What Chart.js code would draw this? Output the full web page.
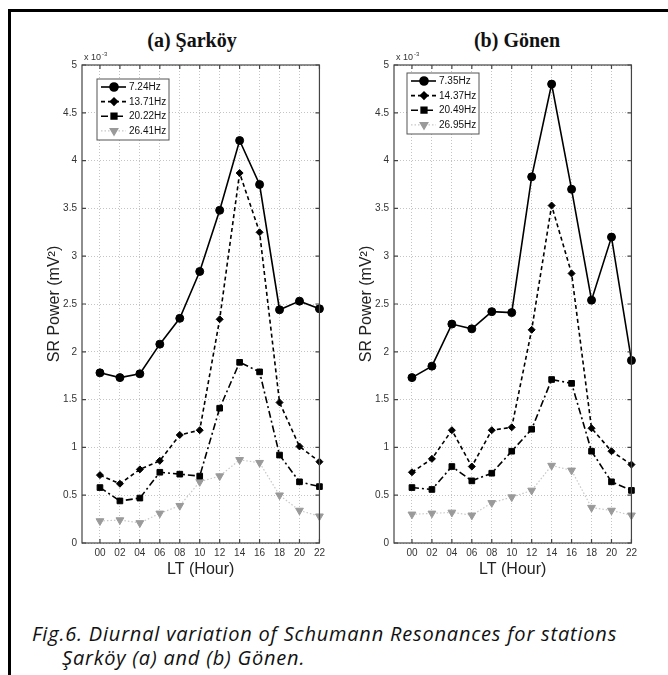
<!DOCTYPE html>
<html>
<head>
<meta charset="utf-8">
<script src="https://cdn.jsdelivr.net/npm/chart.js@4"></script>
<style>
  body { margin: 0; background: #fff; width: 668px; height: 675px; overflow: hidden; position: relative; }
  .frame { position: absolute; left: 8px; top: 9px; width: 660px; height: 666px; border-top: 3px solid #000; border-left: 3px solid #000; box-sizing: border-box; }
  .box { position: absolute; top: 20px; width: 309px; height: 559px; }
  .title { position: absolute; top: 29px; font: bold 20px "Liberation Serif", serif; color: #111; white-space: nowrap; transform: translateX(-50%); }
  .caption { position: absolute; left: 32px; top: 622px; font: italic 20px "Open Sans", sans-serif; letter-spacing: 0.8px; color: #111; line-height: 24px; white-space: nowrap; }
</style>
</head>
<body>
<div class="frame"></div>
<div class="title" style="left:192px">(a) Şarköy</div>
<div class="title" style="left:517px">(b) Gönen</div>
<div class="box" style="left:20px"><canvas id="chartA"></canvas></div>
<div class="box" style="left:332px"><canvas id="chartB"></canvas></div>
<div class="caption">Fig.6. Diurnal variation of Schumann Resonances for stations<br><span style="padding-left:30px">Şarköy (a) and (b) Gönen.</span></div>
<script>
const hours = [0, 2, 4, 6, 8, 10, 12, 14, 16, 18, 20, 22];

// Şarköy (x 10^-3 mV^2)
const sarkoyLabels = ["7.24Hz", "13.71Hz", "20.22Hz", "26.41Hz"];
const sarkoy1 = [1.78, 1.73, 1.77, 2.08, 2.35, 2.84, 3.48, 4.21, 3.75, 2.44, 2.53, 2.45];
const sarkoy2 = [0.71, 0.62, 0.77, 0.86, 1.13, 1.18, 2.34, 3.87, 3.25, 1.47, 1.01, 0.85];
const sarkoy3 = [0.58, 0.44, 0.47, 0.74, 0.72, 0.70, 1.41, 1.89, 1.79, 0.92, 0.64, 0.59];
const sarkoy4 = [0.23, 0.24, 0.21, 0.31, 0.39, 0.64, 0.70, 0.87, 0.84, 0.50, 0.34, 0.28];

// Gönen
const gonenLabels = ["7.35Hz", "14.37Hz", "20.49Hz", "26.95Hz"];
const gonen1 = [1.73, 1.85, 2.29, 2.24, 2.42, 2.41, 3.83, 4.80, 3.70, 2.54, 3.20, 1.91];
const gonen2 = [0.74, 0.88, 1.18, 0.80, 1.18, 1.21, 2.23, 3.53, 2.82, 1.20, 0.96, 0.82];
const gonen3 = [0.58, 0.56, 0.80, 0.65, 0.73, 0.96, 1.19, 1.71, 1.67, 0.96, 0.64, 0.55];
const gonen4 = [0.30, 0.31, 0.32, 0.29, 0.42, 0.48, 0.55, 0.81, 0.76, 0.37, 0.34, 0.29];

const styles = [
  { color: "#000", dash: [], width: 1.6, point: "circle", r: 4, pcolor: "#000" },
  { color: "#000", dash: [4, 3], width: 1.6, point: "rectRot", r: 3.5, pcolor: "#000" },
  { color: "#000", dash: [7, 3, 2, 3], width: 1.6, point: "rect", r: 4, pcolor: "#000" },
  { color: "#c8c8c8", dash: [1.5, 2], width: 1.2, point: "triangle", r: 4.5, pcolor: "#9a9a9a" }
];

function makeSets(labels, series) {
  return series.map((vals, i) => {
    const s = styles[i];
    return {
      label: labels[i],
      data: vals.map((v, j) => ({ x: hours[j], y: v })),
      borderColor: s.color,
      borderWidth: s.width,
      borderDash: s.dash,
      pointStyle: s.point,
      pointRadius: s.r,
      pointRotation: i === 3 ? 180 : 0,
      pointBackgroundColor: s.pcolor,
      pointBorderColor: s.pcolor,
      pointBorderWidth: 1,
      tension: 0,
      clip: 8
    };
  });
}

// frame, inward ticks, exponent label and legend box
const framePlugin = {
  id: "frame",
  afterDraw(chart, args, opts) {
    const ctx = chart.ctx;
    const a = chart.chartArea;
    const xs = chart.scales.x, ys = chart.scales.y;
    ctx.save();
    ctx.strokeStyle = "#444";
    ctx.lineWidth = 1.2;
    ctx.setLineDash([]);
    ctx.strokeRect(a.left, a.top, a.right - a.left, a.bottom - a.top);
    ctx.beginPath();
    xs.ticks.forEach(t => {
      const px = xs.getPixelForValue(t.value);
      ctx.moveTo(px, a.bottom); ctx.lineTo(px, a.bottom - 4);
      ctx.moveTo(px, a.top); ctx.lineTo(px, a.top + 4);
    });
    ys.ticks.forEach(t => {
      const py = ys.getPixelForValue(t.value);
      ctx.moveTo(a.left, py); ctx.lineTo(a.left + 4, py);
      ctx.moveTo(a.right, py); ctx.lineTo(a.right - 4, py);
    });
    ctx.stroke();

    // x 10^-3
    ctx.fillStyle = "#333";
    ctx.font = "9px 'Liberation Sans'";
    ctx.textBaseline = "alphabetic";
    ctx.fillText("x 10", a.left + 2, a.top - 5);
    ctx.font = "6px 'Liberation Sans'";
    ctx.fillText("-3", a.left + 20, a.top - 9);

    // legend
    const bx = a.left + opts.dx, by = a.top + opts.dy;
    const bw = 72, bh = 61;
    ctx.fillStyle = "#fff";
    ctx.fillRect(bx, by, bw, bh);
    ctx.strokeStyle = "#555";
    ctx.lineWidth = 1;
    ctx.strokeRect(bx, by, bw, bh);
    chart.data.datasets.forEach((ds, i) => {
      const yy = by + 8 + i * 14.6;
      ctx.strokeStyle = ds.borderColor;
      ctx.lineWidth = ds.borderWidth;
      ctx.setLineDash(ds.borderDash);
      ctx.beginPath();
      ctx.moveTo(bx + 4, yy); ctx.lineTo(bx + 29, yy);
      ctx.stroke();
      ctx.setLineDash([]);
      ctx.fillStyle = ds.pointBackgroundColor;
      ctx.strokeStyle = ds.pointBorderColor;
      Chart.helpers.drawPoint(ctx, {
        pointStyle: ds.pointStyle, radius: ds.pointRadius, rotation: ds.pointRotation, borderWidth: 1
      }, bx + 17, yy);
      ctx.fillStyle = "#111";
      ctx.font = "10px 'Liberation Sans'";
      ctx.textBaseline = "middle";
      ctx.fillText(ds.label, bx + 32, yy + 0.5);
    });
    ctx.restore();
  }
};

function buildChart(id, labels, series, legendPos) {
  const ctx = document.getElementById(id).getContext("2d");
  return new Chart(ctx, {
    type: "line",
    data: { datasets: makeSets(labels, series) },
    options: {
      responsive: true,
      maintainAspectRatio: false,
      animation: false,
      layout: { padding: { top: 45, left: 21, right: 8, bottom: 0 } },
      plugins: { legend: { display: false }, tooltip: { enabled: false }, frame: legendPos },
      scales: {
        x: {
          type: "linear",
          min: -1.8,
          max: 22,
          afterFit: s => { s.height = 36; },
          afterBuildTicks: s => { s.ticks = hours.map(h => ({ value: h })); },
          ticks: {
            includeBounds: false,
            padding: 4,
            color: "#333",
            font: { family: "Liberation Sans", size: 10 },
            callback: v => String(v).padStart(2, "0")
          },
          grid: { color: "#c4c4c4", lineWidth: 1, drawTicks: false },
          border: { display: false, dash: [1, 2] },
          title: { display: true, text: "LT (Hour)", color: "#222", font: { family: "Liberation Sans", size: 16 }, padding: { top: 0, bottom: 0 } }
        },
        y: {
          min: 0,
          max: 5,
          afterFit: s => { s.width = 41; },
          ticks: {
            stepSize: 0.5,
            padding: 5,
            color: "#333",
            font: { family: "Liberation Sans", size: 10 },
            callback: v => String(v)
          },
          grid: { color: "#c4c4c4", lineWidth: 1, drawTicks: false },
          border: { display: false, dash: [1, 2] },
          title: { display: true, text: "SR Power (mV²)", color: "#222", font: { family: "Liberation Sans", size: 16 }, padding: 4 }
        }
      }
    },
    plugins: [framePlugin]
  });
}

buildChart("chartA", sarkoyLabels, [sarkoy1, sarkoy2, sarkoy3, sarkoy4], { dx: 15, dy: 14 });
buildChart("chartB", gonenLabels, [gonen1, gonen2, gonen3, gonen4], { dx: 13, dy: 8 });
</script>
</body>
</html>
